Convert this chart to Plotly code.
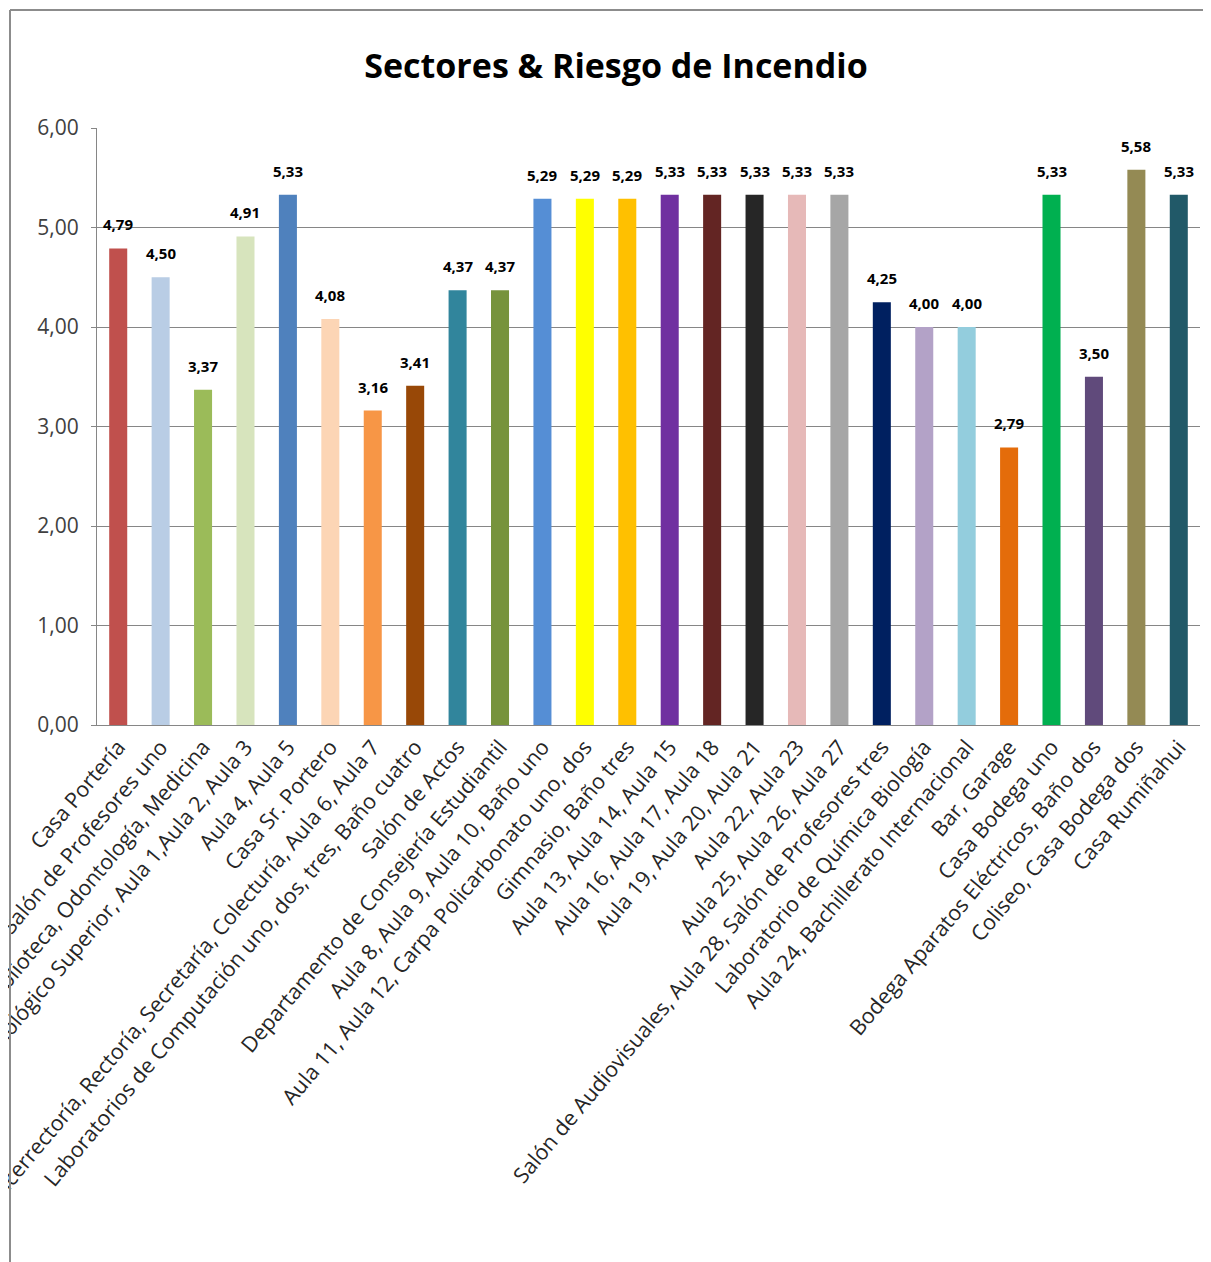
import plotly.graph_objects as go

categories = [
    "Casa Portería",
    "Salón de Profesores uno",
    "Biblioteca, Odontología, Medicina",
    "Tecnológico Superior, Aula 1,Aula 2, Aula 3",
    "Aula 4, Aula 5",
    "Casa Sr. Portero",
    "Vicerrectoría, Rectoría, Secretaría, Colecturía, Aula 6, Aula 7",
    "Laboratorios de Computación uno, dos, tres, Baño cuatro",
    "Salón de Actos",
    "Departamento de Consejería Estudiantil",
    "Aula 8, Aula 9, Aula 10, Baño uno",
    "Aula 11, Aula 12, Carpa Policarbonato uno, dos",
    "Gimnasio, Baño tres",
    "Aula 13, Aula 14, Aula 15",
    "Aula 16, Aula 17, Aula 18",
    "Aula 19, Aula 20, Aula 21",
    "Aula 22, Aula 23",
    "Aula 25, Aula 26, Aula 27",
    "Salón de Audiovisuales, Aula 28, Salón de Profesores tres",
    "Laboratorio de Química Biología",
    "Aula 24, Bachillerato Internacional",
    "Bar, Garage",
    "Casa Bodega uno",
    "Bodega Aparatos Eléctricos, Baño dos",
    "Coliseo, Casa Bodega dos",
    "Casa Rumiñahui",
]

values = [4.79, 4.50, 3.37, 4.91, 5.33, 4.08, 3.16, 3.41, 4.37, 4.37,
          5.29, 5.29, 5.29, 5.33, 5.33, 5.33, 5.33, 5.33, 4.25, 4.00,
          4.00, 2.79, 5.33, 3.50, 5.58, 5.33]

bar_colors = ["#C0504D", "#B9CDE5", "#9BBB59", "#D7E4BD", "#4F81BD", "#FCD5B5",
              "#F79646", "#984807", "#31859C", "#77933C", "#558ED5", "#FFFF00",
              "#FFC000", "#7030A0", "#632523", "#262626", "#E6B9B8", "#A6A6A6",
              "#002060", "#B3A2C7", "#93CDDD", "#E46C0A", "#00B050", "#604A7B",
              "#948A54", "#215968"]

y_ticks = [0, 1, 2, 3, 4, 5, 6]

# page body adds ~8px offset; size figure accordingly
W, H = 1203, 1254
ML, MR, MT, MB = 89, 11, 120, 537
pw = W - ML - MR
ph = H - MT - MB


def px_to_paper_x(px):
    return (px - ML) / pw


def px_to_paper_y(py):
    return (H - MB - py) / ph


font_main = "Open Sans, sans-serif"

fig = go.Figure()
fig.add_trace(go.Bar(
    x=categories,
    y=values,
    marker=dict(color=bar_colors, line=dict(width=0)),
    showlegend=False,
    hoverinfo="x+y",
))

annotations = [
    dict(x=c, y=v, xref="x", yref="y", text="<b>%s</b>" % f"{v:.2f}".replace(".", ","),
         showarrow=False, yanchor="bottom", xanchor="center", yshift=12,
         font=dict(family=font_main, size=15, color="#000000"))
    for c, v in zip(categories, values)
]

fig.update_layout(
    width=W, height=H,
    margin=dict(l=ML, r=MR, t=MT, b=MB, autoexpand=False),
    paper_bgcolor="white",
    plot_bgcolor="white",
    separators=",.",
    bargap=0.575,
    title=dict(text="<b>Sectores & Riesgo de Incendio</b>",
               x=(616 - 8) / W, xref="container", xanchor="center",
               y=1 - 58 / H, yref="container", yanchor="middle",
               font=dict(family=font_main, size=34, color="#000000")),
    xaxis=dict(
        tickangle=-50,
        tickfont=dict(family=font_main, size=21.5, color="#262626"),
        showline=True, linecolor="#868686", linewidth=1,
        showgrid=False,
        automargin=False,
    ),
    yaxis=dict(
        range=[0, 6],
        tickvals=y_ticks,
        tickformat=".2f",
        tickfont=dict(family=font_main, size=21, color="#404040"),
        showline=True, linecolor="#868686", linewidth=1,
        showgrid=True, gridcolor="#868686", gridwidth=1,
        ticks="outside", ticklen=5, tickcolor="#868686",
        ticklabelstandoff=8,
        zeroline=False,
        automargin=False,
    ),
    annotations=annotations,
    shapes=[
        dict(type="line", xref="paper", yref="paper",
             x0=px_to_paper_x(2), x1=px_to_paper_x(W + 5),
             y0=px_to_paper_y(2), y1=px_to_paper_y(2),
             line=dict(color="#8C8C8C", width=2)),
        dict(type="line", xref="paper", yref="paper",
             x0=px_to_paper_x(2), x1=px_to_paper_x(2),
             y0=px_to_paper_y(2), y1=px_to_paper_y(H + 5),
             line=dict(color="#8C8C8C", width=2)),
    ],
)

fig.write_html("out.html")
